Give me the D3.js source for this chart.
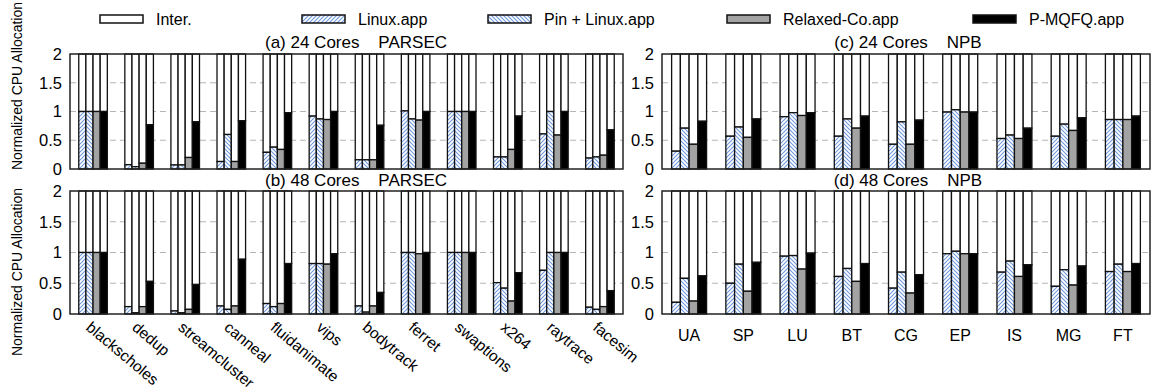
<!DOCTYPE html>
<html><head><meta charset="utf-8">
<script src="https://cdn.jsdelivr.net/npm/d3@7"></script>
<style>body{margin:0;background:#fff}text{font-family:"Liberation Sans",Arial,Helvetica,sans-serif;fill:#000}</style>
</head><body><svg id="c" width="1151" height="392"></svg>
<script>
const parsecCats = ["blackscholes","dedup","streamcluster","canneal","fluidanimate","vips","bodytrack","ferret","swaptions","x264","raytrace","facesim"];
const npbCats = ["UA","SP","LU","BT","CG","EP","IS","MG","FT"];
const seriesNames = ["Linux.app","Pin + Linux.app","Relaxed-Co.app","P-MQFQ.app"];
const legendNames = ["Inter.","Linux.app","Pin + Linux.app","Relaxed-Co.app","P-MQFQ.app"];
const yTicks = [0,0.5,1,1.5,2];
const yTickLabels = ["0","0.5","1","1.5","2"];
const capacity = 2; // each bar: app share + Inter. share fills the normalized total

const parsec24Linux   = [1.0,0.075,0.07,0.13,0.29,0.92,0.16,1.01,1.0,0.21,0.61,0.19];
const parsec24Pin     = [1.0,0.04,0.07,0.60,0.38,0.87,0.16,0.87,1.0,0.21,1.0,0.21];
const parsec24Relaxed = [1.0,0.10,0.20,0.13,0.34,0.86,0.16,0.85,1.0,0.34,0.59,0.24];
const parsec24Pmqfq   = [1.0,0.77,0.82,0.84,0.98,1.0,0.76,1.0,1.0,0.92,1.0,0.68];

const parsec48Linux   = [1.0,0.12,0.05,0.13,0.17,0.82,0.13,1.0,1.0,0.51,0.71,0.11];
const parsec48Pin     = [1.0,0.02,0.02,0.075,0.12,0.82,0.03,1.0,1.0,0.42,1.0,0.075];
const parsec48Relaxed = [1.0,0.12,0.075,0.13,0.17,0.81,0.13,0.98,1.0,0.21,1.0,0.12];
const parsec48Pmqfq   = [1.0,0.53,0.48,0.89,0.82,0.98,0.35,1.0,1.0,0.67,1.0,0.38];

const npb24Linux   = [0.31,0.57,0.91,0.57,0.43,0.99,0.53,0.57,0.86];
const npb24Pin     = [0.71,0.73,0.98,0.87,0.82,1.03,0.59,0.78,0.86];
const npb24Relaxed = [0.43,0.55,0.93,0.71,0.43,0.99,0.53,0.67,0.86];
const npb24Pmqfq   = [0.83,0.87,0.98,0.92,0.85,0.99,0.71,0.89,0.92];

const npb48Linux   = [0.19,0.50,0.94,0.61,0.42,0.98,0.68,0.45,0.69];
const npb48Pin     = [0.58,0.81,0.95,0.74,0.68,1.02,0.86,0.72,0.81];
const npb48Relaxed = [0.21,0.37,0.73,0.53,0.34,0.98,0.61,0.47,0.69];
const npb48Pmqfq   = [0.62,0.84,0.99,0.82,0.64,0.98,0.80,0.78,0.82];

const svg = d3.select("#c");
const defs = svg.append("defs");
const hatchColor = "#7098dc";
function hatch(id, dir){
  const p = defs.append("pattern").attr("id",id).attr("patternUnits","userSpaceOnUse")
    .attr("width",4).attr("height",4);
  p.append("rect").attr("width",4).attr("height",4).attr("fill","#fff");
  const d = dir==="up" ? "M-1,1 L1,-1 M0,4 L4,0 M3,5 L5,3" : "M-1,3 L1,5 M0,0 L4,4 M3,-1 L5,1";
  p.append("path").attr("d",d).attr("stroke",hatchColor).attr("stroke-width",1.1);
}
hatch("hUp","up"); hatch("hDown","down");
const fills = ["url(#hUp)","url(#hDown)","#a3a3a3","#000"];
const legendFills = ["#fff"].concat(fills);

const panels = [
  {cats:parsecCats, vals:[parsec24Linux,parsec24Pin,parsec24Relaxed,parsec24Pmqfq], x0:70, x1:623, y0:54, y1:169, title:"(a) 24 Cores    PARSEC", tx:356, ty:48, pad:0.38},
  {cats:parsecCats, vals:[parsec48Linux,parsec48Pin,parsec48Relaxed,parsec48Pmqfq], x0:70, x1:623, y0:191, y1:314, title:"(b) 48 Cores    PARSEC", tx:356, ty:186, pad:0.38, rotLabels:true},
  {cats:npbCats, vals:[npb24Linux,npb24Pin,npb24Relaxed,npb24Pmqfq], x0:662, x1:1150, y0:54, y1:169, title:"(c) 24 Cores    NPB", tx:908, ty:48, pad:0.355},
  {cats:npbCats, vals:[npb48Linux,npb48Pin,npb48Relaxed,npb48Pmqfq], x0:662, x1:1150, y0:191, y1:314, title:"(d) 48 Cores    NPB", tx:908, ty:186, pad:0.355, flatLabels:true}
];

panels.forEach(P=>{
  const g = svg.append("g");
  const x = d3.scaleBand().domain(P.cats).range([P.x0,P.x1]).paddingInner(P.pad).paddingOuter(P.pad/2);
  const xs = d3.scaleBand().domain(seriesNames).range([0,x.bandwidth()]);
  const y = d3.scaleLinear().domain([0,2]).range([P.y1,P.y0]);
  g.selectAll("line.grid").data(yTicks.filter(t=>t>0&&t<2)).join("line")
    .attr("x1",P.x0).attr("x2",P.x1).attr("y1",d=>y(d)).attr("y2",d=>y(d))
    .attr("stroke","#b5b5b5").attr("stroke-width",1).attr("stroke-dasharray","6,4");
  const ya = d3.axisLeft(y).tickValues(yTicks).tickFormat((d,i)=>yTickLabels[i]).tickSize(0).tickPadding(8);
  const yg = g.append("g").attr("transform",`translate(${P.x0},0)`).call(ya);
  yg.select(".domain").remove();
  yg.selectAll("text").attr("font-size",16.5).attr("font-family","Liberation Sans, Arial, sans-serif").attr("fill","#000");
  P.cats.forEach((c,ci)=>{
    seriesNames.forEach((s,si)=>{
      const v = P.vals[si][ci];
      const bx = x(c)+xs(s), bw = xs.bandwidth();
      g.append("rect").attr("x",bx).attr("y",y(capacity)).attr("width",bw).attr("height",y(v)-y(capacity))
        .attr("fill","#fff").attr("stroke","#111").attr("stroke-width",1.3);
      g.append("rect").attr("x",bx).attr("y",y(v)).attr("width",bw).attr("height",y(0)-y(v))
        .attr("fill",fills[si]).attr("stroke","#111").attr("stroke-width",1.3);
    });
  });
  g.append("rect").attr("x",P.x0).attr("y",P.y0).attr("width",P.x1-P.x0).attr("height",P.y1-P.y0)
    .attr("fill","none").attr("stroke","#222").attr("stroke-width",1.5);
  svg.append("text").attr("x",P.tx).attr("y",P.ty).attr("text-anchor","middle").attr("font-size",17)
    .style("white-space","pre").text(P.title);
  if(P.rotLabels){
    P.cats.forEach(c=>{
      const cx = x(c)+x.bandwidth()/2 - 8, cy = P.y1+15;
      svg.append("text").attr("transform",`translate(${cx},${cy}) rotate(40)`).attr("font-size",15.5).text(c);
    });
  }
  if(P.flatLabels){
    P.cats.forEach(c=>{
      svg.append("text").attr("x",x(c)+x.bandwidth()/2).attr("y",P.y1+27).attr("text-anchor","middle").attr("font-size",16).text(c);
    });
  }
});

[86,272].forEach(cy=>{
  svg.append("text").attr("transform",`translate(22,${cy}) rotate(-90)`).attr("text-anchor","middle")
    .attr("font-size",14).text("Normalized CPU Allocation");
});

const legX = [100,302,488,727,973];
legendNames.forEach((n,i)=>{
  svg.append("rect").attr("x",legX[i]).attr("y",15).attr("width",43).attr("height",8)
    .attr("fill",legendFills[i]).attr("stroke","#111").attr("stroke-width",1.5);
  svg.append("text").attr("x",legX[i]+56).attr("y",25).attr("font-size",16).text(n);
});
</script></body></html>
